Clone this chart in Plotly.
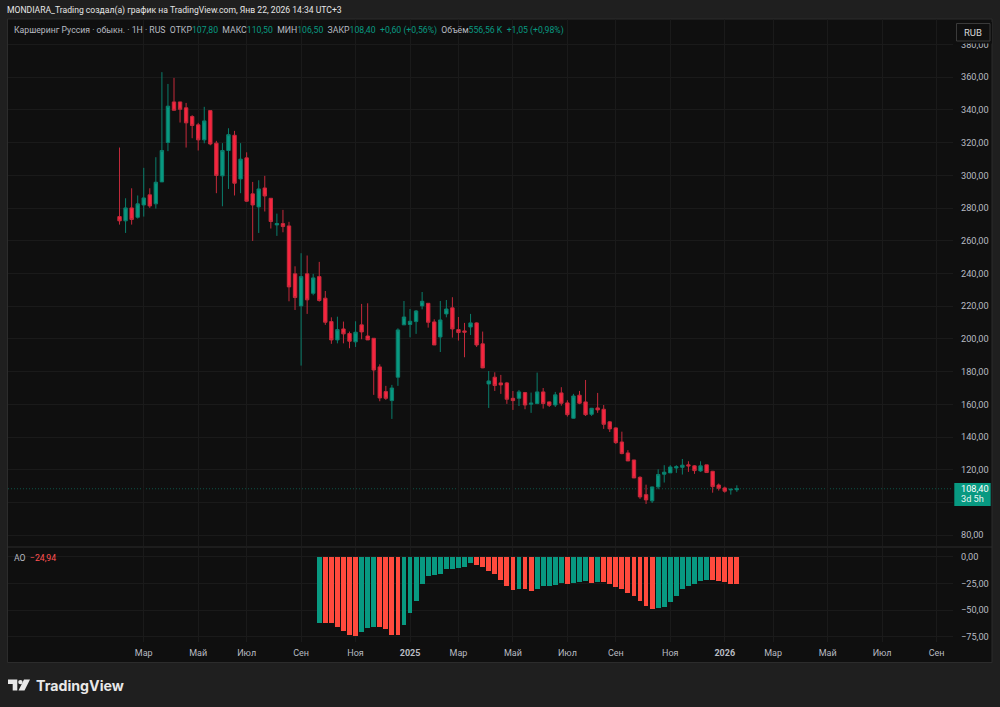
import pandas as pd
import plotly.graph_objects as go

START = "2024-02-05"
OPEN = [274.8,272.2,280.1,274.4,281.9,288.1,282.6,296.0,320.1,344.9,
344.9,341.3,336.0,330.9,321.7,339.6,319.7,299.7,315.2,324.5,
297.8,310.7,288.7,280.7,292.3,286.0,269.7,270.5,269.1,239.8,
220.2,239.8,227.9,238.1,224.9,210.6,199.4,206.1,203.3,198.2,
208.6,201.8,200.4,182.9,167.8,162.3,176.6,208.6,208.8,210.6,
220.2,221.8,210.4,201.2,215.3,219.0,205.7,204.9,207.3,209.8,
197.0,172.5,176.6,173.1,173.1,163.7,163.7,167.2,160.1,160.5,
167.6,161.5,159.6,167.0,160.9,151.5,165.6,161.5,153.9,157.8,
157.0,149.3,145.6,137.0,130.3,126.0,115.4,104.8,101.0,109.5,
117.3,118.1,121.1,121.5,123.0,122.4,119.3,123.0,119.1,110.7,
108.9,107.7,107.8]
CLOSE = [272.2,280.1,273.0,282.6,286.2,281.3,295.8,315.2,342.3,339.8,
340.4,332.1,330.5,321.7,333.3,319.2,299.9,315.2,324.9,295.2,
309.9,284.2,281.9,291.7,287.4,271.8,270.5,268.7,231.8,225.3,
238.1,223.9,237.3,223.5,210.2,199.4,205.7,203.1,198.6,204.1,
204.3,199.4,181.0,163.9,163.7,170.0,205.5,213.4,210.8,217.1,
223.0,210.2,196.3,211.6,218.3,206.1,203.9,204.1,209.8,196.3,
182.3,174.3,171.5,171.9,163.1,162.3,167.6,159.6,160.7,167.6,
160.5,159.4,165.8,160.7,153.7,165.1,160.7,153.7,157.6,156.6,
147.8,145.0,136.6,129.9,125.4,115.0,103.4,101.6,109.5,117.1,
118.5,121.7,121.9,122.8,122.4,119.5,122.4,118.3,109.7,108.7,
106.9,108.1,108.4]
HIGH = [317.0,286.0,292.1,287.7,304.6,292.1,311.1,363.1,355.9,359.6,
344.9,344.3,336.8,332.1,341.9,339.6,321.1,319.7,328.8,327.2,
319.7,314.1,296.0,297.0,299.7,286.0,276.6,278.9,271.6,244.4,
252.4,251.0,239.8,247.1,229.3,213.2,213.6,210.6,204.5,210.8,
221.4,221.8,200.4,184.5,171.3,171.9,206.5,223.2,218.3,217.7,
228.7,221.8,212.0,223.2,223.8,225.5,213.4,209.8,215.3,210.2,
204.5,180.4,179.6,178.0,173.7,168.2,168.8,167.6,167.2,179.4,
170.0,161.7,167.6,170.5,162.5,166.4,168.2,174.9,157.8,167.0,
159.6,149.7,146.0,143.3,132.0,126.0,116.0,110.9,109.7,120.3,
122.8,122.8,122.8,126.6,125.2,122.8,125.2,123.0,119.3,111.6,
109.7,108.3,110.5]
LOW = [269.9,264.8,269.9,273.6,274.8,280.1,279.7,296.0,314.8,339.8,
332.3,317.0,322.7,315.2,319.6,318.4,289.1,281.1,291.7,287.7,
289.1,283.8,259.9,264.8,277.9,267.5,263.0,265.2,223.0,217.7,
183.7,215.3,226.7,222.8,208.6,197.0,197.3,197.3,194.3,195.1,
199.8,199.4,165.8,161.9,162.7,151.1,171.3,208.6,201.0,203.1,
218.1,206.9,196.3,192.0,213.2,200.8,199.0,188.8,202.4,195.1,
182.1,157.8,168.2,166.4,160.3,156.6,159.0,157.0,154.8,160.1,
157.4,158.4,158.4,159.2,152.5,151.3,160.1,152.9,152.9,154.8,
145.0,143.1,135.8,129.5,125.4,115.0,102.2,99.1,99.7,108.1,
112.2,118.1,118.1,117.1,118.7,117.5,118.7,118.1,106.0,107.3,
106.0,104.8,106.5]
AO_START = 33
AO = [-61.5,-61.5,-62.1,-65.6,-69.1,-73.1,-73.8,-70.3,-66.2,-65.6,
-65.6,-67.5,-72.5,-73.1,-63.7,-52.7,-40.5,-25.4,-17.9,-16.9,
-15.1,-10.4,-10.4,-9.7,-8.5,-5.6,-6.9,-8.5,-13.2,-16.0,
-21.3,-26.7,-30.8,-30.1,-30.1,-31.1,-29.2,-27.3,-27.3,-25.7,
-23.9,-24.5,-23.9,-23.2,-22.6,-24.2,-23.2,-23.2,-25.4,-27.6,
-29.5,-33.0,-36.4,-40.8,-45.2,-48.7,-47.7,-46.5,-41.7,-36.4,
-29.8,-26.7,-24.5,-22.6,-21.0,-21.3,-22.3,-23.5,-24.5,-24.94]
AO_DIR = list("GRRRRRRGGGRRRRGGGGGGGGGGGGRRRRRRRGRRGGGGGRGGGRGRRRRRRRRRGGGGGGGGGRRRRR")
X_TICKS = ["2024-03-04","2024-05-06","2024-07-01","2024-09-02","2024-11-04","2025-01-06",
           "2025-03-03","2025-05-05","2025-07-07","2025-09-01","2025-11-03","2026-01-05",
           "2026-03-02","2026-05-04","2026-07-06","2026-09-07"]
X_LABELS = ["Мар","Май","Июл","Сен","Ноя","<b>2025</b>","Мар","Май","Июл","Сен","Ноя","<b>2026</b>","Мар","Май","Июл","Сен"]
PRICE_TICKS = [80,100,120,140,160,180,200,220,240,260,280,300,320,340,360,380]
PRICE_LABELS = ["80,00","","120,00","140,00","160,00","180,00","200,00","220,00","240,00","260,00",
                "280,00","300,00","320,00","340,00","360,00","380,00"]
AO_TICKS = [0,-25,-50,-75]
AO_LABELS = ["0,00","−25,00","−50,00","−75,00"]

W, H = 1000, 707
UP, DOWN = "#089981", "#F7253F"
AO_UP, AO_DOWN = "#089981", "#FF4A3D"
PAGE, PANE = "#1f1f1f", "#0f0f0f"
GRID = "#1a1a1a"
TXT = "#b8bbc2"
FONT = "Roboto"
WEEK_MS = 7*24*3600*1000

def px(x): return x/W
def py(y): return 1-y/H

weeks = pd.date_range(START, periods=len(OPEN), freq="7D")
ao_x = weeks[AO_START:]
ao_colors = [AO_UP if d == "G" else AO_DOWN for d in AO_DIR]

fig = go.Figure()
fig.add_trace(go.Candlestick(
    x=weeks, open=OPEN, high=HIGH, low=LOW, close=CLOSE, xaxis="x", yaxis="y",
    whiskerwidth=0,
    increasing=dict(fillcolor=UP, line=dict(color="#0a7e6c", width=1)),
    decreasing=dict(fillcolor=DOWN, line=dict(color="#c42a3b", width=1)),
    showlegend=False))
fig.add_trace(go.Bar(x=ao_x, y=AO, xaxis="x2", yaxis="y2", width=[WEEK_MS*0.8]*len(AO),
                     marker=dict(color=ao_colors, line=dict(width=0)), showlegend=False))

XR = ["2023-09-29", "2026-09-26"]
axis_x = dict(type="date", range=XR, tickmode="array", tickvals=X_TICKS, showgrid=True,
              gridcolor=GRID, gridwidth=1, zeroline=False, showline=False, ticks="",
              rangeslider=dict(visible=False))
axis_y = dict(side="right", tickmode="array", showgrid=True, gridcolor=GRID, gridwidth=1,
              zeroline=False, showline=False, ticks="", ticklabelstandoff=7,
              tickfont=dict(family=FONT, size=9.2, color=TXT))
fig.update_layout(
    width=W, height=H, margin=dict(l=0, r=0, t=0, b=0), autosize=False,
    paper_bgcolor=PAGE, plot_bgcolor="rgba(0,0,0,0)",
    bargap=0, boxgap=0.2, hovermode=False, showlegend=False,
    xaxis=dict(axis_x, domain=[px(8), px(953)], anchor="y", showticklabels=False, matches=None),
    xaxis2=dict(axis_x, domain=[px(8), px(953)], anchor="y2", ticktext=X_LABELS,
                tickfont=dict(family=FONT, size=9, color=TXT), ticklabelstandoff=4),
    yaxis=dict(axis_y, domain=[py(546), py(19)], anchor="x", range=[73.4, 395.6],
               tickvals=PRICE_TICKS, ticktext=PRICE_LABELS),
    yaxis2=dict(axis_y, domain=[py(642), py(547.5)], anchor="x2", range=[-80.0, 8.9],
                tickvals=AO_TICKS, ticktext=AO_LABELS),
)

shapes = [
    dict(type="rect", xref="paper", yref="paper", x0=px(7.5), x1=px(992), y0=py(662.5), y1=py(19),
         fillcolor=PANE, line=dict(color="#2c2c2c", width=1), layer="below"),
    dict(type="line", xref="paper", yref="paper", x0=px(8), x1=px(992), y0=py(547), y1=py(547),
         line=dict(color="#2c2c2c", width=1), layer="below"),
    dict(type="line", xref="x", yref="y", x0=XR[0], x1=XR[1], y0=CLOSE[-1], y1=CLOSE[-1],
         line=dict(color="rgba(8,153,129,0.5)", width=1, dash="1px,2px"), layer="below"),
    dict(type="rect", xref="paper", yref="paper", x0=px(954.3), x1=px(990.7), y0=py(506), y1=py(483),
         fillcolor=UP, line=dict(width=0), layer="above"),
    dict(type="rect", xref="paper", yref="paper", x0=px(954), x1=px(992), y0=py(43.5), y1=py(22),
         fillcolor=PANE, line=dict(width=0), layer="above"),
    dict(type="rect", xref="paper", yref="paper", x0=px(956.5), x1=px(990), y0=py(41), y1=py(23.5),
         fillcolor=PANE, line=dict(color="#3a3a3a", width=1), layer="above"),
    # logo
    dict(type="path", xref="paper", yref="paper", layer="above", line=dict(width=0), fillcolor="#e8e8e8",
         path=f"M{px(8)},{py(679.5)} L{px(17.3)},{py(679.5)} L{px(17.3)},{py(690.5)} L{px(12.7)},{py(690.5)} "
              f"L{px(12.7)},{py(684)} L{px(8)},{py(684)} Z"),
    dict(type="circle", xref="paper", yref="paper", layer="above", line=dict(width=0), fillcolor="#e8e8e8",
         x0=px(18.2), x1=px(22.6), y0=py(684.3), y1=py(679.9)),
    dict(type="path", xref="paper", yref="paper", layer="above", line=dict(width=0), fillcolor="#e8e8e8",
         path=f"M{px(24)},{py(679.5)} L{px(30)},{py(679.5)} L{px(24.5)},{py(690.5)} L{px(18.5)},{py(690.5)} Z"),
]
fig.update_layout(shapes=shapes)

def note(x, y, text, size=9, color=TXT, anchor="left", family=FONT):
    return dict(xref="paper", yref="paper", x=px(x), y=py(y), text=text, showarrow=False,
                xanchor=anchor, yanchor="middle", align=anchor,
                font=dict(family=family, size=size, color=color))

def c(t): return f'<span style="color:{UP}">{t}</span>'

legend = ("Каршеринг Руссия · обыкн. · 1Н · RUS  ОТКР" + c("107,80") + "  МАКС" + c("110,50") +
          "  МИН" + c("106,50") + "  ЗАКР" + c("108,40") + c("  +0,60 (+0,56%)") +
          "  Объём" + c("556,56 K") + c("  +1,05 (+0,98%)"))
fig.update_layout(annotations=[
    note(5, 10.5, "MONDIARA_Trading создал(а) график на TradingView.com, Янв 22, 2026 14:34 UTC+3", size=8.6, color="#e6e6e6"),
    note(11.5, 30.5, legend, size=8.7),
    note(11.5, 557.5, 'AO  <span style="color:#FF5252">−24,94</span>', size=8.7),
    note(959, 488.5, "108,40", size=9.2, color="#ffffff"),
    note(959, 499, "3d 5h", size=9.2, color="#e8f5f2"),
    note(973.2, 32, "RUB", size=9.5, color="#d8d8d8", anchor="center"),
    note(34, 685, "<b>TradingView</b>", size=14.2, color="#e8e8e8", family="Inter"),
])

fig.write_html("out.html", config=dict(displayModeBar=False, responsive=False),
               post_script="document.body.style.margin='0';document.body.style.background='#1f1f1f';")
